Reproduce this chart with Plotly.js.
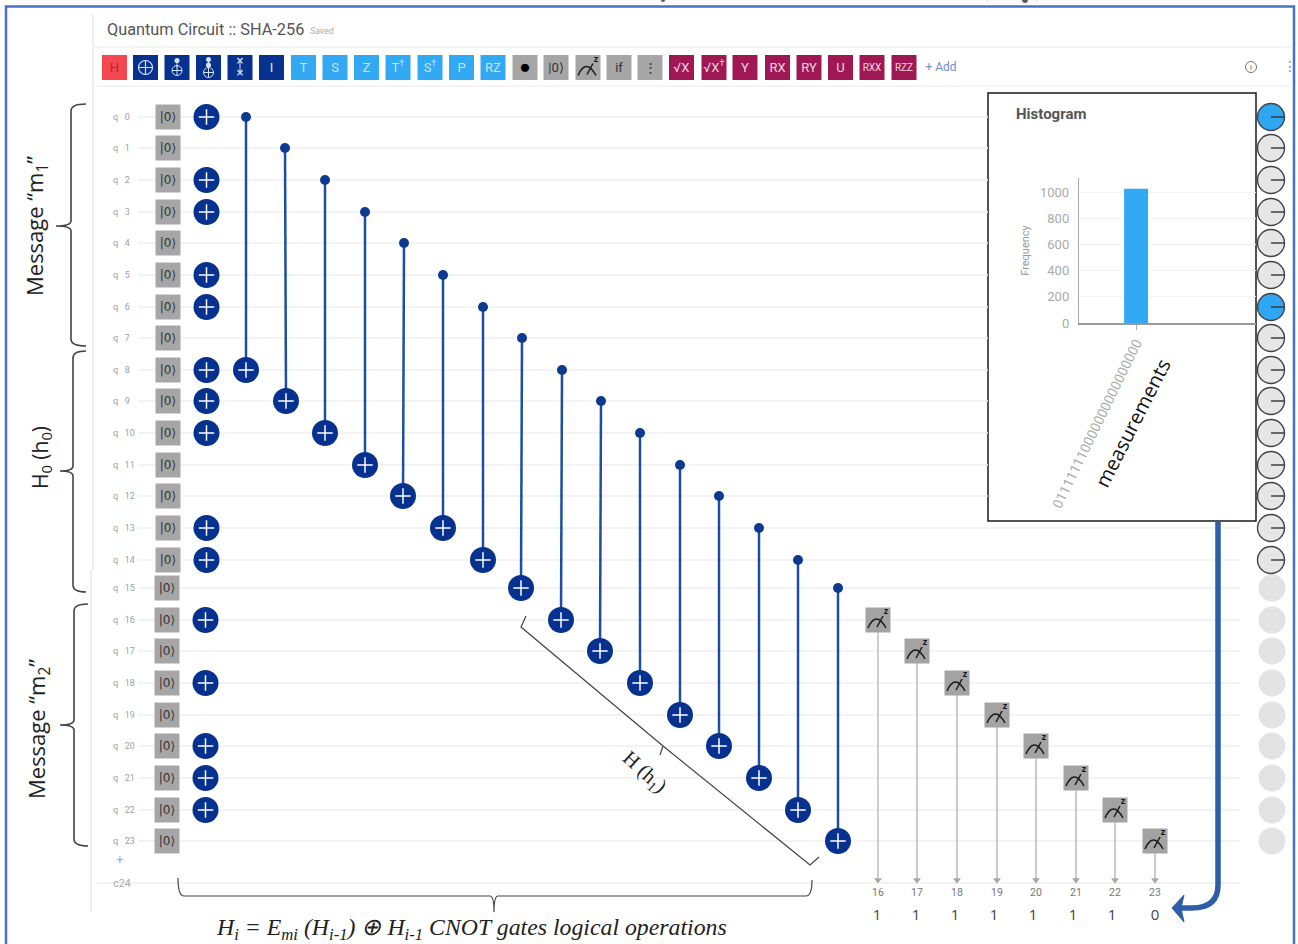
<!DOCTYPE html>
<html>
<head>
<meta charset="utf-8">
<script src="https://cdn.plot.ly/plotly-3.0.1.min.js"></script>
<style>html,body{margin:0;padding:0;background:#fff;overflow:hidden}#chart{width:1298px;height:944px}</style>
</head>
<body>
<div id="chart"></div>
<script>
// ---- circuit content ----
const qubitLabels = ["0","1","2","3","4","5","6","7","8","9","10","11","12","13","14","15","16","17","18","19","20","21","22","23"];
const xGateRows = [0,2,3,5,6,8,9,10,13,14,16,18,20,21,22];
const cnotControls = [0,1,2,3,4,5,6,7,8,9,10,11,12,13,14,15];
const cnotTargets = [8,9,10,11,12,13,14,15,16,17,18,19,20,21,22,23];
const measuredRows = [16,17,18,19,20,21,22,23];
const classicalBits = ["16","17","18","19","20","21","22","23"];
const measuredValues = ["1","1","1","1","1","1","1","0"];
const activeProbRows = [0,6];
// ---- toolbar ----
const toolbarLabels = ["H","","","","","I","T","S","Z","T<sup>†</sup>","S<sup>†</sup>","P","RZ","●","|0⟩","","if","⋮","√X","√X<sup>†</sup>","Y","RX","RY","U","RXX","RZZ"];
const toolbarGroups = ["h","n","n","n","n","n","b","b","b","b","b","b","b","g","g","g","g","g","m","m","m","m","m","m","m","m"];
// ---- histogram ----
const histCategories = ["011111110000000000000000"];
const histCounts = [1024];
const histTicks = [0,200,400,600,800,1000];
// ---- pixel layout ----
const rowY = [117,148,180,212,243,275,307,338,370,401,433,465,496,528,560,588,620,651,683,715,746,778,810,841];
const cnotControlX = [246,285,325,365,404,443,483,522,562,601,640,680,719,759,798,838];
const cnotTargetX = [246,286,325,365,403,443,483,521,561,600,640,680,719,759,798,838];
const measureX = [878,917,957,997,1036,1076,1115,1155];
const valueX = [877,916,955,994,1033,1073,1112,1155];
const toolbarX = [114.5,145.5,177,208.5,240,271.5,303.5,335,366.5,398,430,461.5,493,525,556,588,619,650,681.5,714,745,777.5,809,840.5,872,904];
const toolbarY = 67.5;
const classicalY = 883;
const fragmentX = [663,987,1025,1037];
const fragmentSize = [5,2,7,2];
const NAVY = "#06318f", WIRE = "#efefef", GREY = "#a6a6a6", INK = "#333333";
const groupColor = {h:"#f4474f", n:"#06318f", b:"#33a9f4", g:"#a6a6a6", m:"#9f1853"};
const groupText  = {h:"#a03038", n:"#e8eefa", b:"#c9e3f5", g:"#333333", m:"#efd6e1"};
const TEXT_DROP = 1; // text traces sit a pixel high of their point

const traces = [];
function add(t){ t.hoverinfo = "skip"; t.showlegend = false; t.cliponaxis = false; traces.push(t); }
function segs(list){ const x=[],y=[]; list.forEach(s=>{x.push(s[0],s[2],null);y.push(s[1],s[3],null);}); return {x,y}; }

// wires (stop at the histogram panel when they run behind it)
let w = segs(rowY.map(y => [138, y, y < 521 ? 988 : 1240, y]).concat([[97,classicalY,1240,classicalY]]));
add({x:w.x,y:w.y,mode:"lines",line:{color:WIRE,width:1.5}});

// qubit labels
add({x:rowY.map(()=>113),y:rowY.map(y=>y+TEXT_DROP),mode:"text",text:qubitLabels.map(q=>"q\u00a0\u00a0\u00a0"+q),textposition:"middle right",textfont:{family:"Roboto",size:9,color:"#a0a0a0"}});
add({x:[120],y:[861],mode:"text",text:["+"],textfont:{family:"Roboto",size:12,color:"#aaaaaa"}});
add({x:[122],y:[classicalY+1],mode:"text",text:["c24"],textfont:{family:"Roboto",size:10.5,color:"#aaaaaa"}});

// reset boxes
const boxX = rowY.map((y,i)=> i<15 ? 168 : 167);
add({x:boxX,y:rowY,mode:"markers",marker:{symbol:"square",size:25,color:GREY}});
add({x:boxX,y:rowY.map(y=>y+TEXT_DROP),mode:"text",text:rowY.map(()=>"|0⟩"),textposition:"middle center",textfont:{family:"DejaVu Sans",size:12,color:INK}});

// X gates
const xGateX = xGateRows.map(r=> r<15 ? 206.5 : 205.5);
const xGateY = xGateRows.map(r=>rowY[r]);
add({x:xGateX,y:xGateY,mode:"markers",marker:{symbol:"circle",size:26,color:NAVY}});
add({x:xGateX,y:xGateY,mode:"markers",marker:{symbol:"cross-thin",size:11,line:{color:"#ffffff",width:1.5}}});

// CNOT gates
let c = segs(cnotControls.map((r,i)=>[cnotControlX[i],rowY[r],cnotTargetX[i],rowY[cnotTargets[i]]]));
add({x:c.x,y:c.y,mode:"lines",line:{color:"#1d4ea3",width:2.5}});
add({x:cnotControlX,y:cnotControls.map(r=>rowY[r]),mode:"markers",marker:{symbol:"circle",size:10,color:"#0c3a8f"}});
const tY = cnotTargets.map(r=>rowY[r]);
add({x:cnotTargetX,y:tY,mode:"markers",marker:{symbol:"circle",size:26,color:NAVY}});
add({x:cnotTargetX,y:tY,mode:"markers",marker:{symbol:"cross-thin",size:11,line:{color:"#ffffff",width:1.5}}});

// measurements
const mY = measuredRows.map(r=>rowY[r]);
let m = segs(measureX.map((x,i)=>[x,mY[i],x,classicalY-3]));
add({x:m.x,y:m.y,mode:"lines",line:{color:"#b0b0b0",width:1.3}});
add({x:measureX,y:measureX.map(()=>classicalY-3),mode:"markers",marker:{symbol:"triangle-down",size:7,color:"#a8a8a8"}});
add({x:measureX,y:mY,mode:"markers",marker:{symbol:"square",size:25,color:"#a3a3a3"}});
add({x:measureX.map(x=>x+8),y:mY.map(y=>y-8),mode:"text",text:measureX.map(()=>"z"),textfont:{family:"Liberation Sans",size:9,color:"#111",weight:"bold"}});
add({x:measureX,y:measureX.map(()=>893.5),mode:"text",text:classicalBits,textfont:{family:"Roboto",size:10.5,color:"#777777"}});
add({x:valueX,y:valueX.map(()=>916),mode:"text",text:measuredValues,textfont:{family:"Open Sans",size:15,color:"#444444"}});

// probability discs
const upper = rowY.slice(0,15), lower = rowY.slice(15);
add({x:lower.map(()=>1272),y:lower,mode:"markers",marker:{symbol:"circle",size:27,color:"#e3e3e3"}});
add({x:upper.map(()=>1271),y:upper,mode:"markers",marker:{symbol:"circle",size:27,color:upper.map((y,i)=>activeProbRows.includes(i)?"#2ea6f2":"#e6e6e6"),line:{color:"#444444",width:1.4}}});
let n = segs(upper.map(y=>[1271,y,1284,y]));
add({x:n.x,y:n.y,mode:"lines",line:{color:"#333333",width:1.4}});

// toolbar
add({x:toolbarX,y:toolbarX.map(()=>toolbarY),mode:"markers",marker:{symbol:"square",size:25,color:toolbarGroups.map(g=>groupColor[g])}});
const labelled = toolbarLabels.map((t,i)=>i).filter(i=>toolbarLabels[i]);
add({x:labelled.map(i=>toolbarX[i]),y:labelled.map(()=>toolbarY+TEXT_DROP),mode:"text",text:labelled.map(i=>toolbarLabels[i]),textposition:"middle center",
  textfont:{family:"Roboto",size:labelled.map(i=>toolbarLabels[i]==="●"?19:(toolbarLabels[i].length===3&&toolbarGroups[i]==="m"?10:13)),color:labelled.map(i=>toolbarLabels[i]==="●"?"#000000":groupText[toolbarGroups[i]])}});
const icon = "#d8e2f5";
add({x:[toolbarX[1]],y:[toolbarY],mode:"markers",marker:{symbol:"circle-cross-open",size:14,color:icon,line:{color:icon,width:1.2}}});
add({x:[toolbarX[2],toolbarX[3]],y:[toolbarY+3,toolbarY+5],mode:"markers",marker:{symbol:"circle-cross-open",size:10,color:icon,line:{color:icon,width:1}}});
add({x:[toolbarX[2],toolbarX[3],toolbarX[3]],y:[toolbarY-7,toolbarY-8,toolbarY-2.5],mode:"markers",marker:{symbol:"circle",size:5,color:icon}});
let ci = segs([[toolbarX[2],toolbarY-7,toolbarX[2],toolbarY],[toolbarX[3],toolbarY-8,toolbarX[3],toolbarY+2],[toolbarX[4],toolbarY-6,toolbarX[4],toolbarY+6]]);
add({x:ci.x,y:ci.y,mode:"lines",line:{color:icon,width:1}});
add({x:[toolbarX[4],toolbarX[4]],y:[toolbarY-6,toolbarY+6],mode:"text",text:["×","×"],textfont:{family:"DejaVu Sans",size:10,color:icon,weight:"bold"}});
add({x:[toolbarX[15]+8],y:[toolbarY-8],mode:"text",text:["z"],textfont:{family:"Liberation Sans",size:9,color:"#111",weight:"bold"}});
add({x:[941],y:[67.5],mode:"text",text:["+ Add"],textfont:{family:"Roboto",size:12,color:"#6f8fcf"}});
add({x:[1251],y:[67],mode:"markers",marker:{symbol:"circle-open",size:11,color:"#777",line:{color:"#777",width:1}}});
add({x:[1251],y:[67.5],mode:"text",text:["i"],textfont:{family:"Roboto",size:8,color:"#666"}});
add({x:[1290],y:[67],mode:"text",text:["⋮"],textfont:{family:"DejaVu Sans",size:14,color:"#888"}});

// header text
add({x:[107],y:[30.5],mode:"text",text:["Quantum Circuit :: SHA-256"],textposition:"middle right",textfont:{family:"Roboto",size:16.3,color:"#555555"}});
add({x:[310],y:[31.5],mode:"text",text:["Saved"],textposition:"middle right",textfont:{family:"Roboto",size:9,color:"#aaa",style:"italic"}});
add({x:[1016],y:[115],mode:"text",text:["Histogram"],textposition:"middle right",textfont:{family:"Roboto",size:15,color:"#555",weight:"bold"}});
// glyph tips left at the very top of the crop
add({x:fragmentX,y:fragmentX.map(()=>0),mode:"markers",marker:{symbol:"circle",size:fragmentSize,color:"#111111"}});

// histogram
traces.push({type:"bar",x:histCategories,y:histCounts,xaxis:"x2",yaxis:"y2",width:0.21,marker:{color:"#33a9f4"},hoverinfo:"skip",showlegend:false});

// ---- shapes ----
function brace(x,y0,ym,y1,tip,end){
  return `M ${end} ${y0} Q ${x} ${y0} ${x} ${y0+7} L ${x} ${ym-5} Q ${x} ${ym} ${tip} ${ym} Q ${x} ${ym} ${x} ${ym+5} L ${x} ${y1-7} Q ${x} ${y1} ${end} ${y1}`;
}
const pathLine = (p,color,width,fill,layer)=>({type:"path",path:p,xref:"x",yref:"y",layer:layer||"below",line:{color,width},fillcolor:fill||"rgba(0,0,0,0)"});
const lineShape = (x0,y0,x1,y1,color,width)=>({type:"line",x0,y0,x1,y1,xref:"x",yref:"y",layer:"below",line:{color,width}});
const shapes = [
  {type:"rect",x0:6,y0:6.5,x1:1294,y1:960,xref:"x",yref:"y",layer:"below",line:{color:"#4472c4",width:2.5},fillcolor:"#ffffff"},
  lineShape(93,14,93,570,"#e8e8e8",1.5),
  lineShape(91,570,91,912,"#e8e8e8",1.5),
  lineShape(93,47,1293,47,"#f0f0f0",1.5),
  lineShape(93,86,1293,86,"#f0f0f0",1.5),
  pathLine(brace(71,104,226,346,56,86),"#444444",1.6),
  pathLine(brace(73,351,471,592,60,86),"#444444",1.6),
  pathLine(brace(74,604,725,846,60,88),"#444444",1.6),
  pathLine("M 178 878 Q 178 896 184 896 L 490 896 Q 494 896 494 912 Q 494 896 498 896 L 806 896 Q 812 896 812 880","#444444",1.2,null,"above"),
  pathLine("M 526 616 L 521 627 L 663 746 L 660 755 M 663 746 L 810 865 L 819 857","#444444",1.2,null,"above"),
  {type:"rect",x0:988,y0:93,x1:1256,y1:521,xref:"x",yref:"y",layer:"below",line:{color:"#1a1a1a",width:1.5},fillcolor:"#ffffff"},
  pathLine("M 1218 521 L 1218 885 Q 1218 908 1192 908 L 1180 908","#2f5ea8",5.5,null,"above"),
  pathLine("M 1172 908 L 1184 895 L 1181 908 L 1184 922 Z","#2f5ea8",1,"#2f5ea8","above")
];
// gauge icons drawn above the grey boxes
function gauge(cx,cy){
  return {type:"path",xref:"x",yref:"y",layer:"above",line:{color:"#1a1a1a",width:1.5},fillcolor:"rgba(0,0,0,0)",
    path:`M ${cx-10} ${cy+8} Q ${cx-2} ${cy-10} ${cx+8} ${cy+8} M ${cx-1} ${cy+7} L ${cx+5} ${cy-4}`};
}
measureX.forEach((x,i)=>shapes.push(gauge(x,mY[i])));
shapes.push(gauge(toolbarX[15],toolbarY));

// ---- annotations ----
const ann = (x,y,text,size,angle,family,color)=>({x,y,xref:"x",yref:"y",text,showarrow:false,textangle:angle,font:{family,size,color:color||"#222222"}});
const annotations = [
  ann(36,226,"Message “m<sub>1</sub>”",22,-90,"Open Sans"),
  ann(41,458,"H<sub>0</sub> (h<sub>0</sub>)",21,-90,"Open Sans"),
  ann(38,729,"Message “m<sub>2</sub>”",22,-90,"Open Sans"),
  ann(644,772,"H (h<sub>1</sub>)",20.5,42,"Liberation Serif"),
  ann(471,929,"<i>H<sub>i</sub> = E<sub>mi</sub> (H<sub>i-1</sub>) ⊕ H<sub>i-1</sub> CNOT gates logical operations</i>",23.8,0,"Liberation Serif"),
  ann(1132,423,"measurements",20,-63,"Open Sans","#111111")
];

const W = 1298, H = 944;
const layout = {
  width:W,height:H,margin:{l:0,r:0,t:0,b:0},paper_bgcolor:"#ffffff",plot_bgcolor:"rgba(0,0,0,0)",showlegend:false,
  xaxis:{range:[0,W],domain:[0,1],visible:false,fixedrange:true},
  yaxis:{range:[H,0],domain:[0,1],visible:false,fixedrange:true},
  xaxis2:{type:"category",domain:[1079/W,1256/W],range:[-0.5,1.05],anchor:"y2",showline:true,linecolor:"#999999",linewidth:1.5,
    showgrid:false,ticks:"outside",ticklen:5,tickcolor:"#aaaaaa",tickangle:-64,tickfont:{family:"Roboto",size:13.8,color:"#aaaaaa"},fixedrange:true},
  yaxis2:{domain:[(H-323)/H,(H-178)/H],range:[0,1107],anchor:"x2",tickvals:histTicks,ticktext:histTicks.map(String),showline:true,linecolor:"#aaaaaa",linewidth:1.2,
    gridcolor:"#f3f3f3",gridwidth:1,zeroline:false,ticks:"",ticklabelstandoff:6,tickfont:{family:"Roboto",size:13,color:"#aaaaaa"},
    title:{text:"Frequency",standoff:8,font:{family:"Roboto",size:11,color:"#999999"}},fixedrange:true},
  shapes,annotations
};
Plotly.newPlot("chart",traces,layout,{staticPlot:true,displayModeBar:false});
</script>
</body>
</html>
